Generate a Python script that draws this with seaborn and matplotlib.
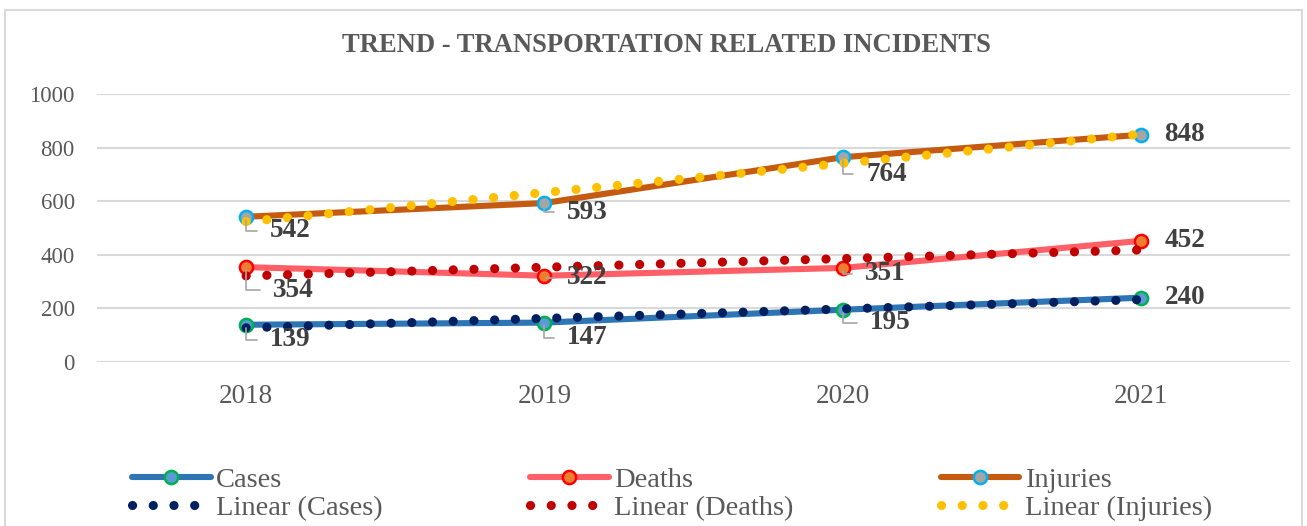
import numpy as np
import pandas as pd
import matplotlib
matplotlib.use("Agg")
import matplotlib.pyplot as plt
import seaborn as sns
from matplotlib.patches import Rectangle
from matplotlib.lines import Line2D

years = ["2018", "2019", "2020", "2021"]
cases = [139, 147, 195, 240]
deaths = [354, 322, 351, 452]
injuries = [542, 593, 764, 848]
series_names = ["Cases", "Deaths", "Injuries"]

sns.set_theme(style="white")
plt.rcParams["font.family"] = ["Liberation Serif", "DejaVu Serif"]

fig = plt.figure(figsize=(13.07, 5.26), dpi=100)
W, H = 1307, 526
ax = fig.add_axes([97 / W, 1 - 362 / H, (1290 - 97) / W, (362 - 94) / H])

# chart frame
fig.patches.append(Rectangle((5 / W, -0.1), (1302 - 5) / W, 1.1 - 10 / H,
                             transform=fig.transFigure, fill=False,
                             edgecolor="#D9D9D9", linewidth=1.5, zorder=0))

x = np.arange(len(years))
df = pd.DataFrame({
    "x": np.tile(x, 3),
    "value": cases + deaths + injuries,
    "series": np.repeat(series_names, len(years)),
})

line_colors = {"Cases": "#2E75B6", "Deaths": "#FF5F66", "Injuries": "#C55A11"}
face_colors = {"Cases": "#5B9BD5", "Deaths": "#ED7D31", "Injuries": "#A5A5A5"}
edge_colors = {"Cases": "#00B050", "Deaths": "#FF0000", "Injuries": "#00B0F0"}
trend_colors = {"Cases": "#002060", "Deaths": "#C00000", "Injuries": "#FFC000"}

LW_TREND = 6.6
DOT = (0, (0.01, 2.25))

for s in series_names:
    sub = df[df["series"] == s]
    sns.lineplot(data=sub, x="x", y="value", ax=ax, color=line_colors[s],
                 linewidth=4.4, marker="o", markersize=9.5,
                 markerfacecolor=face_colors[s], markeredgecolor=edge_colors[s],
                 markeredgewidth=1.8, zorder=3, legend=False,
                 solid_capstyle="round")

for s in series_names:
    sub = df[df["series"] == s]
    sns.regplot(data=sub, x="x", y="value", ax=ax, scatter=False, ci=None,
                truncate=True,
                line_kws=dict(color=trend_colors[s], linewidth=LW_TREND,
                              linestyle=DOT, dash_capstyle="round", zorder=4))

ax.set_xlim(-0.5, 3.5)
ax.set_ylim(0, 1000)
ax.set_yticks(range(0, 1001, 200))
ax.set_xticks(x)
ax.set_xticklabels(years)
ax.set_xlabel("")
ax.set_ylabel("")
ax.grid(axis="y", color="#D9D9D9", linewidth=1.5)
ax.grid(axis="x", visible=False)
ax.set_axisbelow(True)
for sp in ax.spines.values():
    sp.set_visible(False)
ax.tick_params(axis="both", length=0, labelcolor="#595959")
ax.tick_params(axis="x", labelsize=19.5, pad=16)
ax.tick_params(axis="y", labelsize=16.5, pad=16)

# data labels (offsets in pixels: right, down)
label_font = dict(fontsize=19.5, fontweight="bold", color="#404040")
offsets_below = {"Cases": [(44, 15), (43, 15), (48, 13)],
                 "Deaths": [(47, 23), (43, 2), (43, 6)],
                 "Injuries": [(44, 14), (43, 9), (44, 17)]}
values = {"Cases": cases, "Deaths": deaths, "Injuries": injuries}
for s in series_names:
    vals = values[s]
    for i, v in enumerate(vals):
        if i < len(vals) - 1:
            dx, dy = offsets_below[s][i]
            ax.annotate(str(v), xy=(i, v), xytext=(dx * 0.72, -dy * 0.72),
                        textcoords="offset points", ha="center", va="center",
                        **label_font, zorder=5,
                        arrowprops=dict(arrowstyle="-", color="#A6A6A6",
                                        lw=1.2, shrinkA=7, shrinkB=2,
                                        connectionstyle="angle,angleA=0,angleB=90,rad=0",
                                        relpos=(0, 0.5)))
        else:
            ax.annotate(str(v), xy=(i, v), xytext=(17, 0),
                        textcoords="offset points", ha="left", va="center",
                        **label_font, zorder=5)

fig.text(666 / W, 1 - 46 / H, "TREND - TRANSPORTATION RELATED INCIDENTS",
         ha="center", va="center", fontsize=19.2, fontweight="bold",
         color="#595959")

handles = []
labels = []
for s in series_names:
    handles.append(Line2D([], [], color=line_colors[s], linewidth=4.4,
                          marker="o", markersize=9.5,
                          markerfacecolor=face_colors[s],
                          markeredgecolor=edge_colors[s], markeredgewidth=1.8,
                          solid_capstyle="round"))
    labels.append(s)
    handles.append(Line2D([], [], color=trend_colors[s], linewidth=LW_TREND,
                          linestyle=DOT, dash_capstyle="round"))
    labels.append(f"Linear ({s})")

leg = fig.legend(handles, labels, ncol=3, loc="center left",
                 bbox_to_anchor=(118 / W, 1 - 494 / H), frameon=False,
                 fontsize=20.5, handlelength=2.75, handletextpad=0.18,
                 columnspacing=5.2, labelspacing=0.08, borderpad=0)
for t in leg.get_texts():
    t.set_color("#595959")

fig.savefig("out.png", dpi=100)
